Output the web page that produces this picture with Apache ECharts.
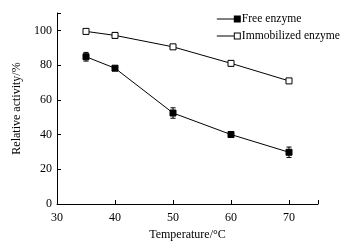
<!DOCTYPE html>
<html>
<head>
<meta charset="utf-8">
<script src="https://cdn.jsdelivr.net/npm/echarts@6/dist/echarts.min.js"></script>
<style>
html, body { margin: 0; padding: 0; background: #fff; }
#main { width: 359px; height: 246px; }
</style>
</head>
<body>
<div id="main"></div>
<script>
var temps = [35, 40, 50, 60, 70];
var freeVals = [84.8, 78.2, 52.4, 40.0, 29.8];
var freeErr = [2.5, 0.8, 3.0, 1.2, 3.0];
var immoVals = [99.4, 97.1, 90.5, 81.0, 70.9];
var immoErr = [1.0, 1.6, 0.8, 1.5, 1.0];

var myChart = echarts.init(document.getElementById('main'));
var font = 'Liberation Serif';

// legend icons: short line with a square at its right end
var iconFilled = 'path://M0,3L17,3L17,0L24,0L24,7L17,7L17,4L0,4Z';
var iconHollow = 'path://M0,3L17,3L17,0L24,0L24,7L17,7L17,4L0,4ZM18,1L18,6L23,6L23,1Z';

function pairs(vals) {
    return temps.map(function (t, i) { return [t, vals[i]]; });
}
function errData(vals, errs) {
    return temps.map(function (t, i) { return [t, vals[i] - errs[i], vals[i] + errs[i]]; });
}
function errRender(params, api) {
    var x = api.value(0);
    var lo = api.coord([x, api.value(1)]);
    var hi = api.coord([x, api.value(2)]);
    var w = 2.5;
    var st = { stroke: '#000', lineWidth: 1 };
    return {
        type: 'group',
        children: [
            { type: 'line', shape: { x1: lo[0], y1: lo[1], x2: hi[0], y2: hi[1] }, style: st },
            { type: 'line', shape: { x1: lo[0] - w, y1: lo[1], x2: lo[0] + w, y2: lo[1] }, style: st },
            { type: 'line', shape: { x1: hi[0] - w, y1: hi[1], x2: hi[0] + w, y2: hi[1] }, style: st }
        ]
    };
}

var option = {
    animation: false,
    textStyle: { fontFamily: font },
    grid: { left: 57, right: 41, top: 13, bottom: 40 },
    legend: {
        right: 14, top: 8,
        orient: 'vertical',
        itemGap: 5,
        itemWidth: 24, itemHeight: 7,
        textStyle: { fontFamily: font, fontSize: 11.6, color: '#000', padding: [0, 0, 0, -4] },
        data: [
            { name: 'Free enzyme', icon: iconFilled, itemStyle: { color: '#000', borderWidth: 0 } },
            { name: 'Immobilized enzyme', icon: iconHollow, itemStyle: { color: '#000', borderWidth: 0 } }
        ]
    },
    xAxis: {
        type: 'value', min: 30, max: 75, interval: 10,
        name: 'Temperature/°C', nameLocation: 'middle', nameGap: 25,
        nameTextStyle: { fontFamily: font, fontSize: 12, color: '#000' },
        axisLine: { lineStyle: { color: '#000' } },
        axisTick: { inside: true, length: 4, lineStyle: { color: '#000' } },
        axisLabel: { fontFamily: font, fontSize: 12, color: '#000', margin: 8,
            formatter: function (v) { return v > 70 ? '' : v; } },
        splitLine: { show: false }
    },
    yAxis: {
        type: 'value', min: 0, max: 110, interval: 20,
        name: 'Relative activity/%', nameLocation: 'middle', nameGap: 27,
        nameTextStyle: { fontFamily: font, fontSize: 12, color: '#000' },
        axisLine: { show: true, lineStyle: { color: '#000' } },
        axisTick: { inside: true, length: 4, lineStyle: { color: '#000' } },
        axisLabel: { fontFamily: font, fontSize: 12, color: '#000', margin: 5,
            formatter: function (v) { return v > 100 ? '' : v; } },
        splitLine: { show: false }
    },
    series: [
        {
            name: 'Free enzyme', type: 'line', data: pairs(freeVals),
            symbol: 'rect', symbolSize: 6,
            itemStyle: { color: '#000', borderColor: '#000' },
            lineStyle: { color: '#000', width: 1 }, z: 3
        },
        {
            name: 'Immobilized enzyme', type: 'line', data: pairs(immoVals),
            symbol: 'rect', symbolSize: 6,
            itemStyle: { color: '#fff', borderColor: '#000', borderWidth: 1 },
            lineStyle: { color: '#000', width: 1 }, z: 3
        },
        { type: 'custom', renderItem: errRender, data: errData(freeVals, freeErr), z: 2 },
        { type: 'custom', renderItem: errRender, data: errData(immoVals, immoErr), z: 2 }
    ]
};
myChart.setOption(option);
</script>
</body>
</html>
